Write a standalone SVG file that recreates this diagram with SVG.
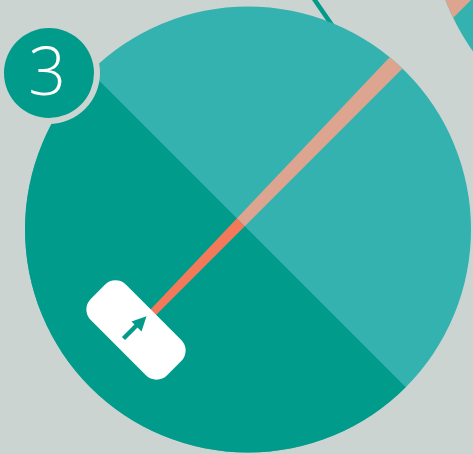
<svg xmlns="http://www.w3.org/2000/svg" width="473" height="454" viewBox="0 0 473 454">
<style>
.bg{fill:#cbd4d1}
.dark{fill:#009b8a}
.light{fill:#33b2b0}
.coral{fill:#f27a5a}
.salmon{fill:#dda58f}
.num{font-family:"Open Sans","Liberation Sans",sans-serif;font-weight:300;font-size:66px;fill:#ffffff}
</style>
<defs>
<clipPath id="mainClip"><circle cx="248" cy="229.5" r="223"/></clipPath>
<clipPath id="otherClip"><circle cx="654" cy="-79" r="223"/></clipPath>
<clipPath id="darkHalf"><polygon points="-100,-118.5 600,581.5 -100,581.5"/></clipPath>
<clipPath id="lightHalf"><polygon points="-100,-118.5 600,581.5 600,-118.5"/></clipPath>
<polygon id="stripe" points="140.3,320.3 461.5,-18.5 475.5,-4.5 145.5,325.5"/>
</defs>
<rect class="bg" x="0" y="0" width="473" height="454"/>
<g id="connectors">
<line x1="312" y1="-4" x2="336" y2="31" stroke="#009b8a" stroke-width="4.5"/>
</g>
<g id="node-other">
<circle class="light" cx="654" cy="-79" r="223"/>
<g clip-path="url(#otherClip)"><use href="#stripe" class="salmon"/></g>
</g>
<g id="node-main">
<circle class="light" cx="248" cy="229.5" r="223"/>
<g clip-path="url(#mainClip)">
<polygon class="dark" points="-100,-118.5 600,581.5 -100,581.5"/>
<g clip-path="url(#lightHalf)"><use href="#stripe" class="salmon"/></g>
<g clip-path="url(#darkHalf)"><use href="#stripe" class="coral"/></g>
</g>
</g>
<g id="node-badge">
<circle class="bg" cx="49" cy="73" r="51"/>
<circle class="dark" cx="49" cy="73" r="45"/>
<text class="num" x="47" y="95" text-anchor="middle">3</text>
</g>
<g id="node-pill">
<rect x="-54" y="-25" width="108" height="50" rx="15" fill="#ffffff" transform="translate(136,330) rotate(45)"/>
<line x1="123.5" y1="338.5" x2="138" y2="324" stroke="#009b8a" stroke-width="4.5"/>
<polygon class="dark" points="146.5,316.3 131.5,321.5 141.5,331.5"/>
</g>
</svg>
